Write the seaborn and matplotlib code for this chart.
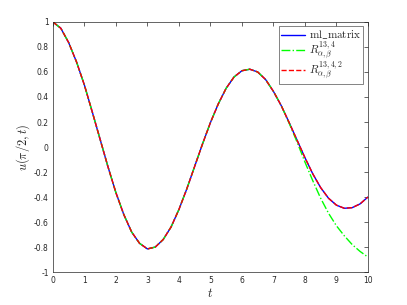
import matplotlib
matplotlib.use("Agg")
import matplotlib.pyplot as plt
import seaborn as sns
import pandas as pd

# values
t = [0, 0.25, 0.5, 0.75, 1.0, 1.25, 1.5, 1.75, 2.0, 2.25, 2.5, 2.75, 3.0, 3.25, 3.5,
     3.75, 4.0, 4.25, 4.5, 4.75, 5.0, 5.25, 5.5, 5.75, 6.0, 6.25, 6.5, 6.75, 7.0,
     7.25, 7.5, 7.75, 8.0, 8.25, 8.5, 8.75, 9.0, 9.25, 9.5, 9.75, 10.0]
ml_matrix = [1.0, 0.95, 0.835, 0.68, 0.495, 0.28, 0.06, -0.16, -0.365, -0.54, -0.68,
             -0.77, -0.815, -0.80, -0.74, -0.64, -0.50, -0.335, -0.155, 0.025, 0.195,
             0.345, 0.47, 0.56, 0.61, 0.622, 0.60, 0.54, 0.445, 0.33, 0.195, 0.055,
             -0.085, -0.215, -0.325, -0.41, -0.465, -0.49, -0.485, -0.455, -0.40]
r_13_4 = [1.0, 0.95, 0.835, 0.68, 0.495, 0.28, 0.06, -0.16, -0.365, -0.54, -0.68,
          -0.77, -0.815, -0.80, -0.74, -0.64, -0.50, -0.335, -0.155, 0.025, 0.195,
          0.345, 0.47, 0.56, 0.61, 0.622, 0.60, 0.54, 0.445, 0.33, 0.19, 0.04,
          -0.12, -0.27, -0.41, -0.53, -0.63, -0.71, -0.78, -0.835, -0.88]
r_13_4_2 = ml_matrix

df = pd.DataFrame({"t": t, "ml": ml_matrix, "r1": r_13_4, "r2": r_13_4_2})

sns.set_style("white")
plt.rcParams["mathtext.fontset"] = "cm"
plt.rcParams["axes.unicode_minus"] = False
plt.rcParams["font.family"] = ["DejaVu Sans"]

fig = plt.figure(figsize=(4.07, 3.05), dpi=100)
ax = fig.add_axes([0.130, 0.108, 0.774, 0.820])

sns.lineplot(data=df, x="t", y="ml", ax=ax, color="#0000ff", lw=1.0,
             label=r"$\mathrm{ml\_matrix}$")
sns.lineplot(data=df, x="t", y="r1", ax=ax, color="#00ff00", lw=1.0,
             linestyle="-.", label=r"$R^{13,4}_{\alpha,\beta}$")
sns.lineplot(data=df, x="t", y="r2", ax=ax, color="#ff0000", lw=1.0,
             linestyle="--", label=r"$R^{13,4,2}_{\alpha,\beta}$")

ax.set_xlim(0, 10)
ax.set_ylim(-1, 1)
ax.set_xticks(range(0, 11))
ax.set_yticks([-1, -0.8, -0.6, -0.4, -0.2, 0, 0.2, 0.4, 0.6, 0.8, 1])
ax.set_yticklabels(["-1", "-0.8", "-0.6", "-0.4", "-0.2", "0", "0.2", "0.4",
                    "0.6", "0.8", "1"])
ax.tick_params(direction="in", length=3, width=0.5, labelsize=5.5,
               top=True, right=True, colors="#262626", pad=3)
for s in ax.spines.values():
    s.set_color("#262626")
    s.set_linewidth(0.5)

ax.set_xlabel(r"$t$", fontsize=9, labelpad=1)
ax.set_ylabel(r"$u(\pi/2,t)$", fontsize=9, labelpad=1)

leg = ax.legend(loc="upper right", fontsize=8, frameon=True, fancybox=False,
                edgecolor="#262626", handlelength=2.2, borderpad=0.2,
                labelspacing=-0.15, handletextpad=0.3, borderaxespad=0.4)
leg.get_frame().set_linewidth(0.5)

fig.savefig("out.png", dpi=100)
